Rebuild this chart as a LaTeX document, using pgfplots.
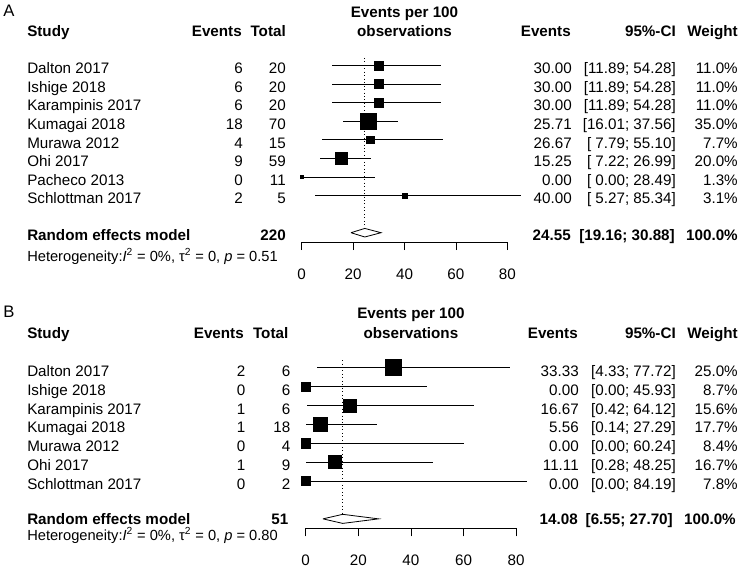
\documentclass[border=0pt]{standalone}
\usepackage{pgfplots}
\pgfplotsset{compat=1.18}
\usepackage{pgfplotstable}
\usepackage{fontspec}
\setmainfont{Liberation Sans}

\newcommand\f{\fontsize{11.4}{13.5}\selectfont}
\newcommand\hf{\fontsize{11}{13}\selectfont}

% panel A: row (negative index), estimate, CI, weight
\pgfplotstableread{
row est lo hi w
0 30.00 11.89 54.28 11.0
-1 30.00 11.89 54.28 11.0
-2 30.00 11.89 54.28 11.0
-3 25.71 16.01 37.56 35.0
-4 26.67 7.79 55.10 7.7
-5 15.25 7.22 26.99 20.0
-6 0.00 0.00 28.49 1.3
-7 40.00 5.27 85.34 3.1
}\dataA

% panel B
\pgfplotstableread{
row est lo hi w
0 33.33 4.33 77.72 25.0
-1 0.00 0.00 45.93 8.7
-2 16.67 0.42 64.12 15.6
-3 5.56 0.14 27.29 17.7
-4 0.00 0.00 60.24 8.4
-5 11.11 0.28 48.25 16.7
-6 0.00 0.00 84.19 7.8
}\dataB

\pgfplotsset{forest/.style={
  scale only axis, enlargelimits=false, clip=false,
  axis x line*=bottom, axis y line=none,
  xmin=0, xmax=80, xtick={0,20,40,60,80},
  tick align=outside, major tick length=6pt,
  xtick style={black, line width=0.6pt},
  x axis line style={black, line width=0.6pt, -},
  /pgf/number format/assume math mode=true,
  xticklabel style={font=\f, yshift=-14pt},
  anchor=south west,
}}

\begin{document}
\begin{tikzpicture}[x=0.75pt, y=-0.75pt, every node/.style={inner sep=0pt, font=\f}]
\useasboundingbox (0,0) rectangle (745,572);

% ---------------- Panel A ----------------
\begin{axis}[forest, at={(226.275pt,-181.5pt)}, x=1.9275pt, y=13.95pt, ymin=-9.5, ymax=0.5]
\addplot[draw=none, mark=none, error bars/.cd, x dir=both, x explicit, error mark=none,
  error bar style={black, line width=0.6pt}]
  table[x=est, y=row, x error plus expr=\thisrow{hi}-\thisrow{est}, x error minus expr=\thisrow{est}-\thisrow{lo}] {\dataA};
\addplot[scatter, only marks, mark=square*, point meta=\thisrow{w},
  scatter/use mapped color={draw=black, fill=black},
  visualization depends on={6*sqrt(\thisrow{w}/35) \as \ms},
  scatter/@pre marker code/.append style={/tikz/mark size=\ms}]
  table[x=est, y=row] {\dataA};
\addplot[black, line width=0.6pt, dotted] coordinates {(24.55,0.4) (24.55,-8.77)};
\addplot[black, fill=white, line width=0.6pt] coordinates {(19.16,-9) (24.55,-8.77) (30.88,-9) (24.55,-9.23) (19.16,-9)};
\end{axis}

% ---------------- Panel B ----------------
\begin{axis}[forest, at={(229.275pt,-396.225pt)}, x=1.9725pt, y=14.175pt, ymin=-8.5, ymax=0.5]
\addplot[draw=none, mark=none, error bars/.cd, x dir=both, x explicit, error mark=none,
  error bar style={black, line width=0.6pt}]
  table[x=est, y=row, x error plus expr=\thisrow{hi}-\thisrow{est}, x error minus expr=\thisrow{est}-\thisrow{lo}] {\dataB};
\addplot[scatter, only marks, mark=square*, point meta=\thisrow{w},
  scatter/use mapped color={draw=black, fill=black},
  visualization depends on={6*sqrt(\thisrow{w}/25) \as \ms},
  scatter/@pre marker code/.append style={/tikz/mark size=\ms}]
  table[x=est, y=row] {\dataB};
\addplot[black, line width=0.6pt, dotted] coordinates {(14.08,0.4) (14.08,-7.77)};
\addplot[black, fill=white, line width=0.6pt] coordinates {(6.55,-8) (14.08,-7.76) (27.70,-8) (14.08,-8.24) (6.55,-8)};
\end{axis}

% ---------------- Text A ----------------
\node[anchor=base west, font=\fontsize{12.5}{14}\selectfont] at (3,16.7) {A};
\node[anchor=base, font=\f\bfseries] at (404.5,17) {Events per 100};
\node[anchor=base, font=\f\bfseries] at (404.5,36) {observations};
\node[anchor=base west, font=\f\bfseries] at (27,36) {Study};
\node[anchor=base east, font=\f\bfseries] at (242,36) {Events};
\node[anchor=base east, font=\f\bfseries] at (286,36) {Total};
\node[anchor=base east, font=\f\bfseries] at (571,36) {Events};
\node[anchor=base east, font=\f\bfseries] at (676,36) {95\%-CI};
\node[anchor=base east, font=\f\bfseries] at (738,36) {Weight};
\foreach \k/\nm/\ev/\tot/\es/\ci/\wt in {
0/Dalton 2017/6/20/30.00/{[11.89; 54.28]}/11.0,
1/Ishige 2018/6/20/30.00/{[11.89; 54.28]}/11.0,
2/Karampinis 2017/6/20/30.00/{[11.89; 54.28]}/11.0,
3/Kumagai 2018/18/70/25.71/{[16.01; 37.56]}/35.0,
4/Murawa 2012/4/15/26.67/{[\ 7.79; 55.10]}/7.7,
5/Ohi 2017/9/59/15.25/{[\ 7.22; 26.99]}/20.0,
6/Pacheco 2013/0/11/0.00/{[\ 0.00; 28.49]}/1.3,
7/Schlottman 2017/2/5/40.00/{[\ 5.27; 85.34]}/3.1}{
  \node[anchor=base west] at (27,{73.7+18.6*\k}) {\nm};
  \node[anchor=base east] at (243,{73.7+18.6*\k}) {\ev};
  \node[anchor=base east] at (286,{73.7+18.6*\k}) {\tot};
  \node[anchor=base east] at (572,{73.7+18.6*\k}) {\es};
  \node[anchor=base east] at (676,{73.7+18.6*\k}) {\ci};
  \node[anchor=base east] at (738,{73.7+18.6*\k}) {\wt\%};
}
\node[anchor=base west, font=\f\bfseries] at (27,240.5) {Random effects model};
\node[anchor=base east, font=\f\bfseries] at (286,240.5) {220};
\node[anchor=base east, font=\f\bfseries] at (571,240.5) {24.55};
\node[anchor=base east, font=\f\bfseries] at (675,240.5) {[19.16; 30.88]};
\node[anchor=base east, font=\f\bfseries] at (738,240.5) {100.0\%};
\node[anchor=base west, font=\hf] at (27,261) {Heterogeneity:\textit{I}\textsuperscript{2} = 0\%, τ\textsuperscript{2} = 0, \textit{p} = 0.51};

% ---------------- Text B ----------------
\node[anchor=base west, font=\fontsize{12.5}{14}\selectfont] at (3,317.3) {B};
\node[anchor=base, font=\f\bfseries] at (410.9,318) {Events per 100};
\node[anchor=base, font=\f\bfseries] at (410.9,338) {observations};
\node[anchor=base west, font=\f\bfseries] at (27,338) {Study};
\node[anchor=base east, font=\f\bfseries] at (244,338) {Events};
\node[anchor=base east, font=\f\bfseries] at (288.5,338) {Total};
\node[anchor=base east, font=\f\bfseries] at (578,338) {Events};
\node[anchor=base east, font=\f\bfseries] at (676,338) {95\%-CI};
\node[anchor=base east, font=\f\bfseries] at (738,338) {Weight};
\foreach \k/\nm/\ev/\tot/\es/\ci/\wt in {
0/Dalton 2017/2/6/33.33/{[4.33; 77.72]}/25.0,
1/Ishige 2018/0/6/0.00/{[0.00; 45.93]}/8.7,
2/Karampinis 2017/1/6/16.67/{[0.42; 64.12]}/15.6,
3/Kumagai 2018/1/18/5.56/{[0.14; 27.29]}/17.7,
4/Murawa 2012/0/4/0.00/{[0.00; 60.24]}/8.4,
5/Ohi 2017/1/9/11.11/{[0.28; 48.25]}/16.7,
6/Schlottman 2017/0/2/0.00/{[0.00; 84.19]}/7.8}{
  \node[anchor=base west] at (27,{376.2+18.9*\k}) {\nm};
  \node[anchor=base east] at (245.5,{376.2+18.9*\k}) {\ev};
  \node[anchor=base east] at (290.5,{376.2+18.9*\k}) {\tot};
  \node[anchor=base east] at (579,{376.2+18.9*\k}) {\es};
  \node[anchor=base east] at (676,{376.2+18.9*\k}) {\ci};
  \node[anchor=base east] at (738,{376.2+18.9*\k}) {\wt\%};
}
\node[anchor=base west, font=\f\bfseries] at (27,524.5) {Random effects model};
\node[anchor=base east, font=\f\bfseries] at (288.5,524.5) {51};
\node[anchor=base east, font=\f\bfseries] at (578,524.5) {14.08};
\node[anchor=base east, font=\f\bfseries] at (673,524.5) {[6.55; 27.70]};
\node[anchor=base east, font=\f\bfseries] at (736,524.5) {100.0\%};
\node[anchor=base west, font=\hf] at (27,540) {Heterogeneity:\textit{I}\textsuperscript{2} = 0\%, τ\textsuperscript{2} = 0, \textit{p} = 0.80};
\end{tikzpicture}
\end{document}
